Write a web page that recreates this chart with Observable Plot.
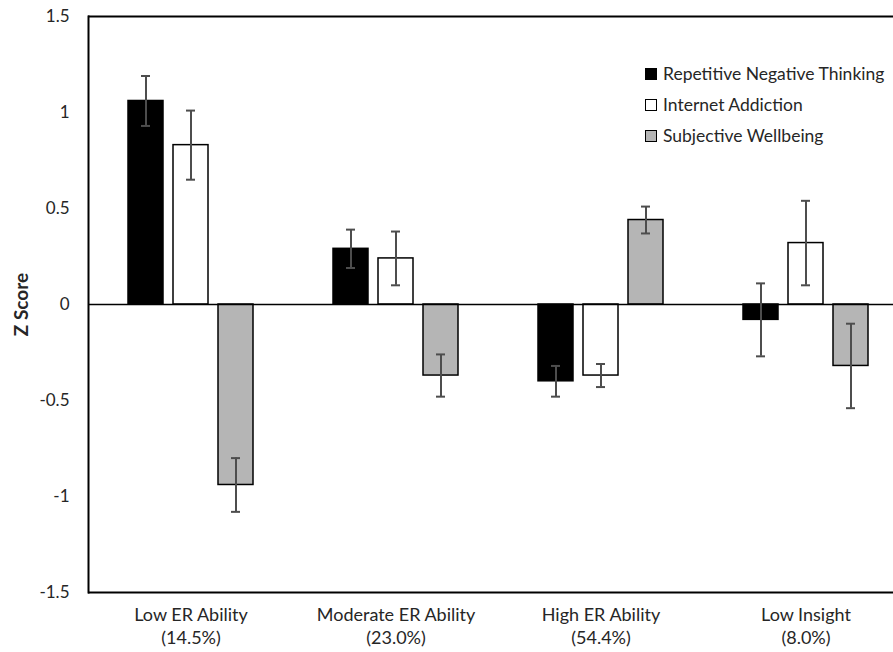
<!DOCTYPE html>
<html><head><meta charset="utf-8">
<script src="https://cdn.jsdelivr.net/npm/d3@7"></script>
<script src="https://cdn.jsdelivr.net/npm/@observablehq/plot@0.6"></script>
<style>
body{margin:0;background:#fff;}
#wrap{position:relative;width:893px;height:652px;overflow:hidden;}
#legend{position:absolute;left:645px;top:58px;font-family:Lato,sans-serif;font-size:17.5px;color:#262626;white-space:nowrap;}
.row{display:flex;align-items:center;height:31px;}
.sw{width:10px;height:10px;border:1.5px solid #000;margin-right:6px;}
</style></head><body><div id="wrap"><div id="legend"></div></div>
<script>
const groups = ["Low ER Ability", "Moderate ER Ability", "High ER Ability", "Low Insight"];
const groupShares = ["(14.5%)", "(23.0%)", "(54.4%)", "(8.0%)"];
const series = ["Repetitive Negative Thinking", "Internet Addiction", "Subjective Wellbeing"];
const seriesColors = ["#000000", "#ffffff", "#b5b5b5"];
const yTicks = [-1.5, -1, -0.5, 0, 0.5, 1, 1.5];

const rnt    = [1.06, 0.29, -0.40, -0.08];
const rntErr = [0.13, 0.10, 0.08, 0.19];
const ia     = [0.83, 0.24, -0.37, 0.32];
const iaErr  = [0.18, 0.14, 0.06, 0.22];
const sw     = [-0.94, -0.37, 0.44, -0.32];
const swErr  = [0.14, 0.11, 0.07, 0.22];

const values = [rnt, ia, sw];
const errors = [rntErr, iaErr, swErr];
const data = groups.flatMap((g, i) => series.map((s, j) => ({
  group: g, series: s, value: values[j][i],
  lo: values[j][i] - errors[j][i], hi: values[j][i] + errors[j][i]
})));
const labels = groups.map((g, i) => ({group: g, text: g + "\n" + groupShares[i]}));
const yTitle = [{group: groups[0], text: "Z Score"}];

const chart = Plot.plot({
  width: 893, height: 652,
  marginLeft: 88, marginRight: -15, marginTop: 16, marginBottom: 60,
  style: {fontFamily: "Lato, sans-serif", fontSize: "17px", color: "#262626", background: "white"},
  fx: {domain: groups, padding: 0, axis: null},
  x: {domain: series, paddingInner: 0.22, paddingOuter: 0.84, axis: null},
  y: {domain: [-1.5, 1.5], ticks: yTicks, tickFormat: d => String(d), tickSize: 0, tickPadding: 19,
      label: null},
  color: {domain: series, range: seriesColors},
  marks: [
    Plot.ruleY([-1.5, 1.5], {stroke: "#000", strokeWidth: 2}),
    Plot.frame({anchor: "left", facetAnchor: "left", stroke: "#000", strokeWidth: 2}),
    Plot.barY(data, {fx: "group", x: "series", y: "value", fill: "series", stroke: "#000", strokeWidth: 1.5}),
    Plot.ruleY([0], {stroke: "#000", strokeWidth: 1.5}),
    Plot.ruleX(data, {fx: "group", x: "series", y1: "lo", y2: "hi", stroke: "#4d4d4d", strokeWidth: 2}),
    Plot.tickY(data, {fx: "group", x: "series", y: "lo", insetLeft: 13, insetRight: 13, stroke: "#4d4d4d", strokeWidth: 2}),
    Plot.tickY(data, {fx: "group", x: "series", y: "hi", insetLeft: 13, insetRight: 13, stroke: "#4d4d4d", strokeWidth: 2}),
    Plot.text(labels, {fx: "group", text: "text", frameAnchor: "bottom", dy: 13, lineAnchor: "top", lineHeight: 1.25, fontSize: 18, fill: "#262626"}),
    Plot.text(yTitle, {fx: "group", text: "text", frameAnchor: "left", textAnchor: "middle", dx: -67, rotate: -90, fontSize: "19px", fontWeight: "bold", fill: "#262626"})
  ]
});
document.getElementById("wrap").prepend(chart);

const legend = d3.select("#legend");
series.forEach((s, j) => {
  const row = legend.append("div").attr("class", "row");
  row.append("div").attr("class", "sw").style("background", seriesColors[j]);
  row.append("span").text(s);
});
</script>
</body></html>
